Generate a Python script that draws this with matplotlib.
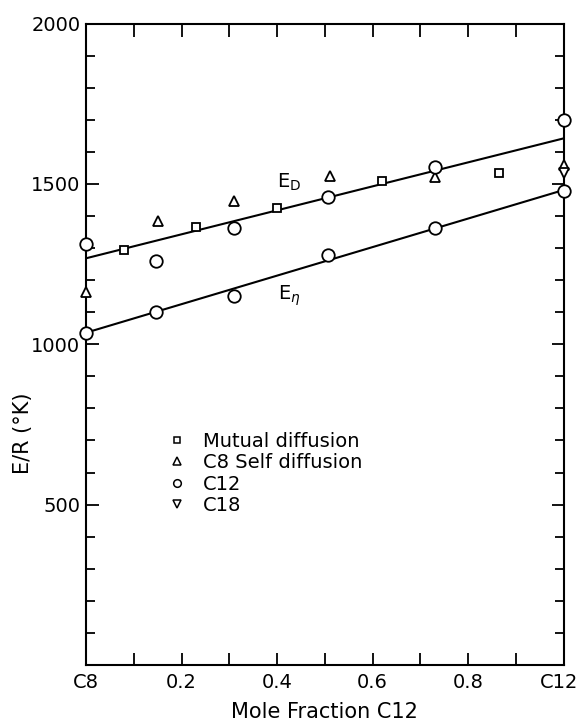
import numpy as np
import matplotlib
matplotlib.use("Agg")
import matplotlib.pyplot as plt
import matplotlib.transforms as mtransforms
from matplotlib.lines import Line2D
from matplotlib.ticker import MultipleLocator

# Data (x = mole fraction C12, y = E/R in K)
mutual_x = [0.08, 0.23, 0.40, 0.62, 0.865]
mutual_y = [1295, 1365, 1425, 1508, 1533]

c8_x = [0.0, 0.15, 0.31, 0.51, 0.73, 1.0]
c8_y = [1162, 1384, 1447, 1525, 1522, 1560]

c12_x = [0.0, 0.0, 0.147, 0.147, 0.31, 0.31, 0.507, 0.507, 0.73, 0.73, 1.0, 1.0]
c12_y = [1312, 1035, 1259, 1100, 1362, 1150, 1459, 1278, 1552, 1362, 1700, 1478]

c18_x = [1.0]
c18_y = [1535]

# fitted lines
line_x = [0.0, 1.0]
ed_line = [1268, 1642]
eeta_line = [1036, 1481]

xticks = [0, 0.2, 0.4, 0.6, 0.8, 1.0]
xticklabels = ["C8", "0.2", "0.4", "0.6", "0.8", "C12"]
yticks = [500, 1000, 1500, 2000]

plt.rcParams['font.family'] = ['DejaVu Sans']

fig = plt.figure(figsize=(5.77, 7.24), dpi=100)
ax = fig.add_axes([0.149, 0.0815, 0.828, 0.886])

ax.plot(line_x, ed_line, color='black', lw=1.5, zorder=2)
ax.plot(line_x, eeta_line, color='black', lw=1.5, zorder=2)

mk = dict(linestyle='none', markerfacecolor='white', markeredgecolor='black',
          markeredgewidth=1.3, zorder=3, clip_on=False)
ax.plot(mutual_x, mutual_y, marker='s', markersize=5.5, **mk)
ax.plot(c8_x, c8_y, marker='^', markersize=7.5, **mk)
ax.plot(c12_x, c12_y, marker='o', markersize=9, **mk)
ax.plot(c18_x, c18_y, marker='v', markersize=7.5, **mk)

ax.text(0.425, 1506, r"E$_\mathrm{D}$", fontsize=14, ha='center', va='center')
ax.text(0.425, 1150, r"E$_\eta$", fontsize=14, ha='center', va='center')

lk = dict(linestyle='none', markerfacecolor='white', markeredgecolor='black',
          markeredgewidth=1.1)
handles = [Line2D([], [], marker='s', markersize=4.5, **lk),
           Line2D([], [], marker='^', markersize=5.5, **lk),
           Line2D([], [], marker='o', markersize=5.5, **lk),
           Line2D([], [], marker='v', markersize=5.5, **lk)]
labels = ["Mutual diffusion", "C8 Self diffusion", "C12", "C18"]
ax.legend(handles, labels, loc='upper left', bbox_to_anchor=(0.170, 0.364),
          frameon=False, fontsize=14, borderpad=0, borderaxespad=0,
          handlelength=1.0, handletextpad=0.84, labelspacing=0.13)

ax.set_xlim(0, 1)
ax.set_ylim(0, 2000)
ax.set_xticks(xticks)
ax.set_xticklabels(xticklabels)
ax.set_yticks(yticks)
ax.xaxis.set_minor_locator(MultipleLocator(0.1))
ax.yaxis.set_minor_locator(MultipleLocator(100))
ax.tick_params(which='both', direction='in', top=True, right=True,
               width=1.3, labelsize=14)
ax.tick_params(axis='x', which='both', length=9, pad=6)
ax.tick_params(axis='y', which='major', length=9, pad=4)
ax.tick_params(axis='y', which='minor', length=6.5)
for s in ax.spines.values():
    s.set_linewidth(1.5)

# nudge the last x label so it stays inside the figure
last = ax.get_xticklabels()[-1]
last.set_transform(last.get_transform() +
                   mtransforms.ScaledTranslation(-5 / 100, 0, fig.dpi_scale_trans))

ax.set_xlabel("Mole Fraction C12", fontsize=15, labelpad=7)
ax.set_ylabel("E/R (°K)", fontsize=15)
ax.yaxis.set_label_coords(-0.111, 0.362)

fig.savefig("out.png", dpi=100)
